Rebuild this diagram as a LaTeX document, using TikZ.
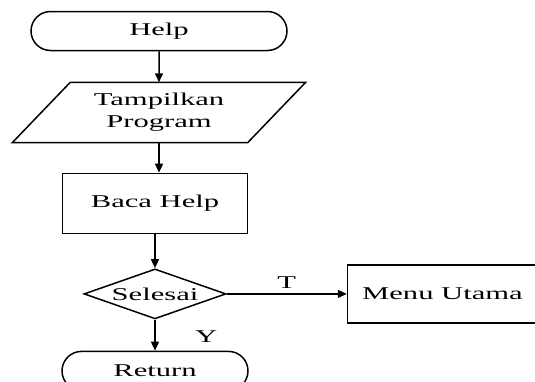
\documentclass[tikz,border=0pt]{standalone}
\usepackage{fontspec}
\setmainfont{Liberation Serif}[FakeStretch=1.7]
\usetikzlibrary{arrows.meta,positioning,shapes.geometric,shapes.misc}

\begin{document}
\begin{tikzpicture}[
  x=1pt, y=1pt,
  every node/.style={font=\fontsize{18}{22}\selectfont},
  base/.style={draw, line width=1.5pt, align=center, inner sep=0pt},
  terminal/.style={base, rounded rectangle, minimum width=256pt, minimum height=39pt},
  iobody/.style={align=center, inner sep=0pt, minimum width=235pt, minimum height=60pt},
  process/.style={base, rectangle, minimum width=185pt, minimum height=60pt},
  decision/.style={base, diamond, aspect=2.84, minimum width=142pt, minimum height=50pt},
  arr/.style={-{Triangle[length=9pt, width=8pt]}, line width=1.5pt},
]
  \useasboundingbox (0,0) rectangle (535,-381);
  \clip (0,0) rectangle (535,-381);

  %% Main column
  \node[terminal] (help) at (159,-31) {Help};
  \node[iobody, below=31pt of help] (tampil) {Tampilkan\\Program};
  \draw[line width=1.5pt] ([xshift=29pt]tampil.north west) -- ([xshift=29pt]tampil.north east)
    -- ([xshift=-29pt]tampil.south east) -- ([xshift=-29pt]tampil.south west) -- cycle;
  \node[process, below=30pt of tampil, xshift=-4pt] (baca) {Baca Help};
  \node[decision, below=34pt of baca] (selesai) {Selesai};
  \node[terminal, minimum width=186pt, below=31pt of selesai] (ret) {Return};

  %% Branch to the right (cut off by the frame)
  \node[base, minimum width=240pt, minimum height=58pt, anchor=west]
    (menu) at ([xshift=120pt]selesai.east) {\hspace*{-50pt}Menu Utama};

  %% Connections
  \draw[arr] (help) -- (tampil);
  \draw[arr] (tampil.south) -- (tampil.south |- baca.north);
  \draw[arr] (baca) -- (selesai);
  \draw[arr] (selesai) -- (menu)
    node[pos=0.5, above=1pt] (lblT) {T};
  \draw[arr] (selesai) -- (ret)
    node[pos=0.55, right=36pt] (lblY) {Y};
\end{tikzpicture}
\end{document}
